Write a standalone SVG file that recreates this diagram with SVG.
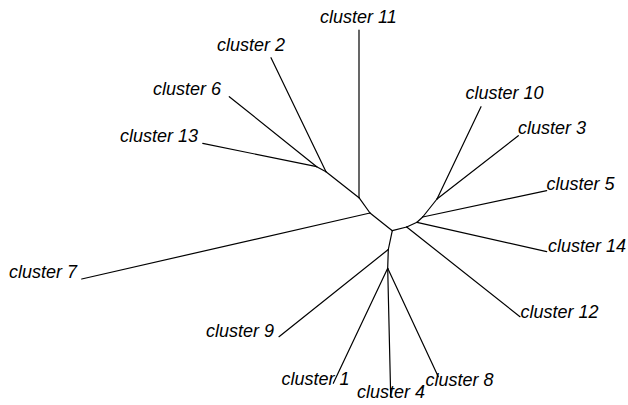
<svg xmlns="http://www.w3.org/2000/svg" width="628" height="405" viewBox="0 0 628 405">
<style>
.e{stroke:#000;stroke-width:1.2;fill:none;stroke-linecap:round}
.t{font-family:"Liberation Sans",Arial,sans-serif;font-style:italic;font-size:18px;fill:#000}
</style>
<rect width="628" height="405" fill="#fff"/>
<g id="connectors">
<line class="e" x1="202.7" y1="143.3" x2="316.7" y2="166.7"/>
<line class="e" x1="229.3" y1="96.7" x2="316.7" y2="166.7"/>
<line class="e" x1="316.7" y1="166.7" x2="326" y2="171.7"/>
<line class="e" x1="271" y1="57.7" x2="326" y2="171.7"/>
<line class="e" x1="326" y1="171.7" x2="359" y2="197.7"/>
<line class="e" x1="359" y1="30" x2="359" y2="197.7"/>
<line class="e" x1="359" y1="197.7" x2="370" y2="213"/>
<line class="e" x1="81.7" y1="279" x2="370" y2="213"/>
<line class="e" x1="370" y1="213" x2="392.3" y2="230.7"/>
<line class="e" x1="392.3" y1="230.7" x2="406.7" y2="227"/>
<line class="e" x1="406.7" y1="227" x2="417" y2="222.3"/>
<line class="e" x1="406.7" y1="227" x2="520" y2="316.7"/>
<line class="e" x1="417" y1="222.3" x2="422.7" y2="217"/>
<line class="e" x1="417" y1="222.3" x2="546.7" y2="251.7"/>
<line class="e" x1="422.7" y1="217" x2="437" y2="199"/>
<line class="e" x1="422.7" y1="217" x2="546.7" y2="190.7"/>
<line class="e" x1="437" y1="199" x2="481" y2="106.7"/>
<line class="e" x1="437" y1="199" x2="518.3" y2="135.7"/>
<line class="e" x1="392.3" y1="230.7" x2="388.3" y2="249.5"/>
<line class="e" x1="388.3" y1="249.5" x2="279" y2="336.7"/>
<line class="e" x1="388.3" y1="249.5" x2="387.7" y2="268.3"/>
<line class="e" x1="387.7" y1="268.3" x2="333.3" y2="383.3"/>
<line class="e" x1="387.7" y1="268.3" x2="390.7" y2="396.7"/>
<line class="e" x1="387.7" y1="268.3" x2="438.3" y2="376.7"/>
</g>
<g id="cluster11"><text class="t" x="320" y="23">cluster 11</text></g>
<g id="cluster2"><text class="t" x="217" y="51">cluster 2</text></g>
<g id="cluster6"><text class="t" x="153" y="95">cluster 6</text></g>
<g id="cluster13"><text class="t" x="120" y="141.5">cluster 13</text></g>
<g id="cluster7"><text class="t" x="9" y="278.3">cluster 7</text></g>
<g id="cluster9"><text class="t" x="206" y="337">cluster 9</text></g>
<g id="cluster1"><text class="t" x="281.5" y="385">cluster 1</text></g>
<g id="cluster4"><text class="t" x="357" y="398.3">cluster 4</text></g>
<g id="cluster8"><text class="t" x="425.5" y="386">cluster 8</text></g>
<g id="cluster12"><text class="t" x="520.5" y="318.3">cluster 12</text></g>
<g id="cluster14"><text class="t" x="548" y="251.7">cluster 14</text></g>
<g id="cluster5"><text class="t" x="546.5" y="190">cluster 5</text></g>
<g id="cluster3"><text class="t" x="518" y="134.3">cluster 3</text></g>
<g id="cluster10"><text class="t" x="465.5" y="99.3">cluster 10</text></g>
</svg>
